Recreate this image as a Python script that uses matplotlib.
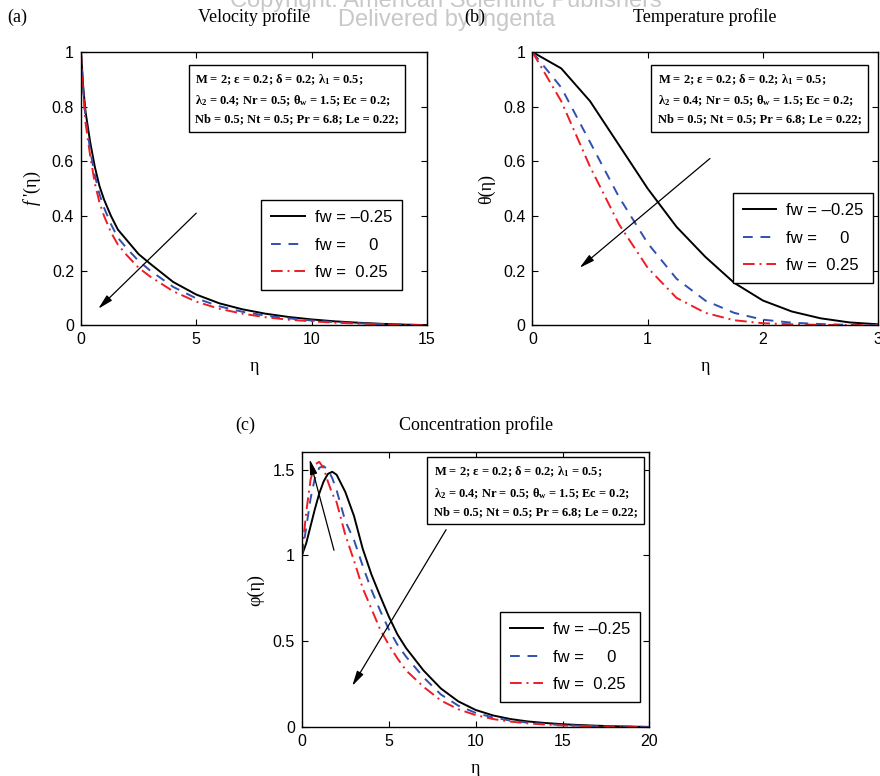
import numpy as np
import matplotlib
matplotlib.use("Agg")
import matplotlib.pyplot as plt

plt.rcParams['font.family'] = ['Liberation Sans', 'DejaVu Sans']
plt.rcParams['mathtext.fontset'] = 'custom'
plt.rcParams['mathtext.rm'] = 'Liberation Serif:bold'
plt.rcParams['mathtext.bf'] = 'Liberation Serif:bold'
plt.rcParams['mathtext.it'] = 'Liberation Serif:italic'
plt.rcParams['mathtext.default'] = 'rm'

# fw values for the three runs
fw_labels = ['fw = \u20130.25', 'fw =     0', 'fw =  0.25']

# (a) velocity f'(eta)
eta_a = [0, 0.1, 0.2, 0.4, 0.6, 0.8, 1.0, 1.3, 1.6, 2.0, 2.5, 3.0, 4.0, 5.0, 6.0,
         7.0, 8.0, 9.0, 10.0, 11.0, 12.0, 13.0, 14.0, 15.0]
vel_m = [1.0, 0.87, 0.78, 0.67, 0.58, 0.51, 0.46, 0.40, 0.35, 0.31, 0.26, 0.225, 0.158, 0.112, 0.080,
         0.058, 0.042, 0.030, 0.021, 0.014, 0.009, 0.005, 0.002, 0.0]
vel_0 = [1.0, 0.86, 0.76, 0.64, 0.55, 0.48, 0.43, 0.37, 0.32, 0.28, 0.235, 0.20, 0.140, 0.098, 0.069,
         0.049, 0.035, 0.025, 0.017, 0.011, 0.007, 0.004, 0.002, 0.0]
vel_p = [1.0, 0.85, 0.74, 0.62, 0.52, 0.45, 0.40, 0.34, 0.295, 0.255, 0.21, 0.178, 0.124, 0.086, 0.060,
         0.042, 0.029, 0.020, 0.014, 0.009, 0.006, 0.003, 0.001, 0.0]

# (b) temperature theta(eta)
eta_b = [0, 0.25, 0.5, 0.75, 1.0, 1.25, 1.5, 1.75, 2.0, 2.25, 2.5, 2.75, 3.0]
tem_m = [1.0, 0.94, 0.82, 0.66, 0.50, 0.36, 0.25, 0.155, 0.09, 0.05, 0.025, 0.01, 0.003]
tem_0 = [1.0, 0.87, 0.67, 0.47, 0.30, 0.17, 0.09, 0.045, 0.02, 0.009, 0.004, 0.001, 0.0]
tem_p = [1.0, 0.82, 0.58, 0.37, 0.21, 0.10, 0.045, 0.018, 0.007, 0.003, 0.001, 0.0, 0.0]

# (c) concentration phi(eta)
eta_c = [0, 0.25, 0.5, 0.75, 1.0, 1.25, 1.5, 1.75, 2.0, 2.5, 3.0, 3.5, 4.0, 4.5, 5.0, 5.5, 6.0,
         7.0, 8.0, 9.0, 10.0, 11.0, 12.0, 13.0, 14.0, 15.0, 16.0, 17.0, 18.0, 19.0, 20.0]
con_m = [1.0, 1.07, 1.17, 1.27, 1.36, 1.43, 1.475, 1.487, 1.47, 1.37, 1.23, 1.04, 0.89, 0.765, 0.645, 0.54, 0.46,
         0.33, 0.225, 0.15, 0.10, 0.068, 0.047, 0.033, 0.024, 0.017, 0.012, 0.008, 0.005, 0.003, 0.001]
con_0 = [1.0, 1.16, 1.33, 1.45, 1.51, 1.52, 1.50, 1.45, 1.38, 1.20, 1.09, 0.94, 0.80, 0.68, 0.57, 0.48, 0.41,
         0.29, 0.19, 0.125, 0.083, 0.056, 0.038, 0.026, 0.018, 0.012, 0.008, 0.005, 0.003, 0.002, 0.001]
con_p = [1.0, 1.25, 1.44, 1.53, 1.545, 1.51, 1.43, 1.36, 1.31, 1.12, 0.97, 0.81, 0.69, 0.57, 0.48, 0.40, 0.33,
         0.235, 0.155, 0.104, 0.070, 0.047, 0.032, 0.022, 0.015, 0.010, 0.007, 0.004, 0.003, 0.001, 0.0]

params = ("M = 2; \u03b5 = 0.2; \u03b4 = 0.2; \u03bb$_1$ = 0.5;\n"
          "\u03bb$_2$ = 0.4; Nr = 0.5; \u03b8$_w$ = 1.5; Ec = 0.2;\n"
          "Nb = 0.5; Nt = 0.5; Pr = 6.8; Le = 0.22;")

styles = [dict(color='k', ls='-', lw=1.4),
          dict(color='#3050b0', ls=(0, (5, 4)), lw=1.4),
          dict(color='#ee1c25', ls=(0, (6, 2.5, 1, 2.5)), lw=1.4)]

fig = plt.figure(figsize=(8.8, 7.76), dpi=100)
ax_a = fig.add_axes([0.092, 0.581, 0.393, 0.352])
ax_b = fig.add_axes([0.605, 0.581, 0.393, 0.352])
ax_c = fig.add_axes([0.343, 0.063, 0.395, 0.354])


def setup(ax, x, ys, xlim, ylim, xt, yt, ylab, leg_pos, box_pos, arrows):
    for y, st, lab in zip(ys, styles, fw_labels):
        ax.plot(x, y, label=lab, **st)
    ax.set_xlim(*xlim)
    ax.set_ylim(*ylim)
    ax.set_xticks(xt)
    ax.set_yticks(yt)
    ax.set_xticklabels([f'{v:g}' for v in xt])
    ax.set_yticklabels([f'{v:g}' for v in yt])
    ax.tick_params(direction='in', top=True, right=True, length=4, width=0.8,
                   labelsize=11.5, pad=5)
    for s in ax.spines.values():
        s.set_linewidth(1.0)
    ax.set_xlabel('\u03b7', family='Liberation Serif', fontsize=13, labelpad=8)
    ax.set_ylabel(ylab, family='Liberation Serif', fontsize=13, labelpad=6)
    leg = ax.legend(loc='lower right', bbox_to_anchor=leg_pos, fontsize=12,
                    handlelength=2.0, handletextpad=0.6, borderpad=0.6,
                    labelspacing=0.75, borderaxespad=0, fancybox=False,
                    edgecolor='k', framealpha=1)
    leg.get_frame().set_linewidth(1.0)
    ax.text(box_pos[0], box_pos[1], params, transform=ax.transAxes,
            family='Liberation Serif', fontweight='bold', fontsize=9,
            linespacing=1.6, va='top', ha='left',
            bbox=dict(boxstyle='square,pad=0.5', fc='white', ec='k', lw=1.0))
    for tail, head in arrows:
        ax.annotate('', xy=head, xytext=tail,
                    arrowprops=dict(arrowstyle='-|>,head_width=0.22,head_length=0.9',
                                    color='k', lw=0.9, shrinkA=0, shrinkB=0))


setup(ax_a, eta_a, [vel_m, vel_0, vel_p], (0, 15), (0, 1), [0, 5, 10, 15],
      [0, 0.2, 0.4, 0.6, 0.8, 1], "$\\mathit{f}$ '(\u03b7)",
      (0.928, 0.128), (0.33, 0.927), [((5.0, 0.41), (0.75, 0.06))])
setup(ax_b, eta_b, [tem_m, tem_0, tem_p], (0, 3), (0, 1), [0, 1, 2, 3],
      [0, 0.2, 0.4, 0.6, 0.8, 1], '\u03b8(\u03b7)',
      (0.986, 0.154), (0.362, 0.927), [((1.54, 0.61), (0.41, 0.21))])
setup(ax_c, eta_c, [con_m, con_0, con_p], (0, 20), (0, 1.6), [0, 5, 10, 15, 20],
      [0, 0.5, 1, 1.5], '\u03c6(\u03b7)',
      (0.974, 0.091), (0.379, 0.956),
      [((1.85, 1.03), (0.45, 1.56)), ((8.3, 1.15), (2.9, 0.24))])

# titles and panel letters
title_kw = dict(family='Liberation Serif', fontsize=13, va='center')
fig.text(0.289, 0.978, 'Velocity profile', ha='center', **title_kw)
fig.text(0.801, 0.978, 'Temperature profile', ha='center', **title_kw)
fig.text(0.541, 0.452, 'Concentration profile', ha='center', **title_kw)
fig.text(0.008, 0.978, '(a)', ha='left', **title_kw)
fig.text(0.528, 0.978, '(b)', ha='left', **title_kw)
fig.text(0.267, 0.452, '(c)', ha='left', **title_kw)

# publisher watermark
wm_kw = dict(family='Liberation Sans', fontsize=17, color='#c8c8c8', ha='center',
             va='center', zorder=-1)
fig.text(0.507, 0.999, 'Copyright: American Scientific Publishers', **wm_kw)
fig.text(0.507, 0.974, 'Delivered by Ingenta', **wm_kw)

fig.savefig('out.png', dpi=100)
